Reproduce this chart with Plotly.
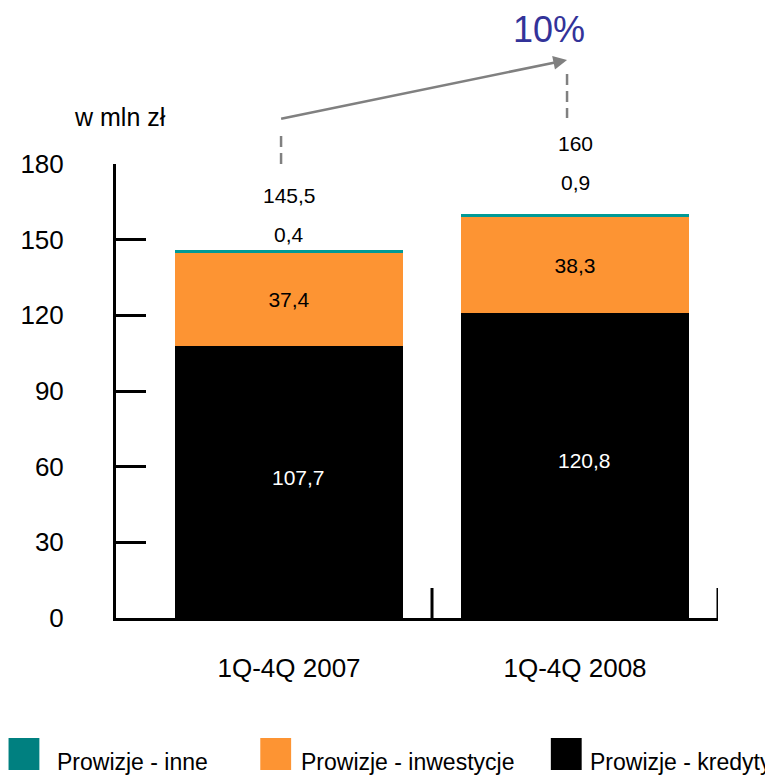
import plotly.graph_objects as go

# ---- data ----
categories = ["1Q-4Q 2007", "1Q-4Q 2008"]
kredyty = [107.7, 120.8]
inwestycje = [37.4, 38.3]
inne = [0.4, 0.9]
totals = [145.5, 160]
growth_label = "10%"
y_ticks = [0, 30, 60, 90, 120, 150, 180]
series_names = ["Prowizje - inne", "Prowizje - inwestycje", "Prowizje - kredyty"]
unit_label = "w mln zł"

FONT = "Liberation Sans, Arial, sans-serif"
C_TEAL = "#009a96"
C_TEAL_LEG = "#008080"
C_ORANGE = "#fd9433"
C_BLACK = "#000000"
C_GREY = "#808080"


def fmt(v):
    s = f"{v:.1f}".replace(".", ",")
    return s[:-2] if s.endswith(",0") else s


# the page body adds an 8px margin; compensate so the figure lands at the reference spot
OFF = 8
W, H = 773 - OFF, 776 - OFF
L, R, T, B = 113 - OFF, 55, 164 - OFF, 158
PW, PH = W - L - R, H - T - B

X_RANGE = [-0.605, 1.5]
Y_RANGE = [0, 180]


def px_x(px):  # reference-pixel x -> paper
    return (px - 113) / PW


def px_y(py):  # reference-pixel y -> paper
    return (618 - py) / PH


def dx(x):  # data x -> paper
    return (x - X_RANGE[0]) / (X_RANGE[1] - X_RANGE[0])


def dy(y):  # data y -> paper
    return (y - Y_RANGE[0]) / (Y_RANGE[1] - Y_RANGE[0])


xs = list(range(len(categories)))
bar_w = 0.795

fig = go.Figure()
fig.add_trace(go.Bar(
    x=xs, y=kredyty, width=bar_w, name=series_names[2],
    marker=dict(color=C_BLACK, line=dict(width=0)),
    showlegend=False,
))
fig.add_trace(go.Bar(
    x=xs, y=inwestycje, width=bar_w, name=series_names[1],
    marker=dict(color=C_ORANGE, line=dict(width=0)),
    text=[fmt(v) for v in inwestycje], textposition="inside",
    insidetextanchor="middle",
    textfont=dict(family=FONT, size=21, color="black"),
    showlegend=False,
))
fig.add_trace(go.Bar(
    x=xs, y=inne, width=bar_w, name=series_names[0],
    marker=dict(color=C_TEAL, line=dict(width=1.5, color=C_TEAL)),
    showlegend=False,
))

annotations = []
shapes = []
# white labels inside the black segments (slightly right of centre, as in the reference)
for i in xs:
    annotations.append(dict(x=dx(i), y=dy(kredyty[i] / 2), xref="paper", yref="paper",
                            xanchor="center", yanchor="middle", xshift=9, yshift=5,
                            text=fmt(kredyty[i]), showarrow=False,
                            font=dict(family=FONT, size=21, color="white")))
# labels above bars: teal value and total
inne_shift = [17, 32]
total_shift = [56, 71]
for i in xs:
    annotations.append(dict(x=dx(i), y=dy(totals[i]), xref="paper", yref="paper",
                            xanchor="center", yanchor="middle",
                            text=fmt(inne[i]), showarrow=False, yshift=inne_shift[i],
                            font=dict(family=FONT, size=21, color="black")))
    annotations.append(dict(x=dx(i), y=dy(totals[i]), xref="paper", yref="paper",
                            xanchor="center", yanchor="middle",
                            text=fmt(totals[i]), showarrow=False, yshift=total_shift[i],
                            font=dict(family=FONT, size=21, color="black")))

# dashed connectors above each bar (drawn top -> bottom so the pattern starts at the top)
conn_x = [dx(i) - 8 / PW for i in xs]
conn_y = [(px_y(136), px_y(164)), (px_y(74), px_y(118))]
for cx, (y0, y1) in zip(conn_x, conn_y):
    shapes.append(dict(type="line", xref="paper", yref="paper", x0=cx, x1=cx,
                       y0=y0, y1=y1,
                       line=dict(color=C_GREY, width=2.5, dash="11px,6px")))

# growth arrow: from above the 2007 connector to above the 2008 connector
annotations.append(dict(x=conn_x[1], y=px_y(60), xref="paper", yref="paper",
                        ax=-(conn_x[1] - conn_x[0]) * PW, ay=59,
                        axref="pixel", ayref="pixel",
                        showarrow=True, arrowhead=2, arrowsize=1.1, arrowwidth=2.5,
                        arrowcolor=C_GREY, standoff=0, text=""))
annotations.append(dict(x=px_x(548), y=px_y(29), xref="paper", yref="paper",
                        xanchor="center", yanchor="middle", text=growth_label,
                        showarrow=False,
                        font=dict(family=FONT, size=36, color="#333399")))
# unit label
annotations.append(dict(x=px_x(117), y=px_y(117), xref="paper", yref="paper",
                        xanchor="center", yanchor="middle",
                        text=unit_label, showarrow=False,
                        font=dict(family=FONT, size=25, color="black")))

# category boundary ticks on x axis
for xb in [0.5, 1.5]:
    shapes.append(dict(type="line", xref="x", yref="y", x0=xb, x1=xb, y0=0, y1=11.9,
                       line=dict(color="black", width=3)))

# manual legend
leg_items = [(series_names[0], C_TEAL_LEG, 5, 52),
             (series_names[1], C_ORANGE, 258, 297),
             (series_names[2], C_BLACK, 550, 587)]
for name, col, sx, tx in leg_items:
    shapes.append(dict(type="rect", xref="paper", yref="paper",
                       x0=px_x(sx), x1=px_x(sx + 31), y0=px_y(770), y1=px_y(738),
                       fillcolor=col, line=dict(width=0)))
    annotations.append(dict(x=px_x(tx), y=px_y(762), xref="paper", yref="paper",
                            xanchor="left", yanchor="middle", text=name, showarrow=False,
                            font=dict(family=FONT, size=23, color="black")))

fig.update_layout(
    barmode="stack",
    width=W, height=H, autosize=False,
    margin=dict(l=L, r=R, t=T, b=B, pad=0),
    paper_bgcolor="white", plot_bgcolor="white",
    font=dict(family=FONT, color="black"),
    annotations=annotations, shapes=shapes,
    xaxis=dict(range=X_RANGE, tickvals=xs, ticktext=categories, ticks="",
               showline=True, linewidth=3, linecolor="black", showgrid=False,
               zeroline=False, tickfont=dict(family=FONT, size=26, color="black"),
               ticklabelstandoff=25),
    yaxis=dict(range=Y_RANGE, tickvals=y_ticks, ticks="inside", ticklen=30,
               tickwidth=3, tickcolor="black", showline=True, linewidth=3,
               linecolor="black", showgrid=False, zeroline=False,
               tickfont=dict(family=FONT, size=26, color="black"),
               ticklabelstandoff=44),
    showlegend=False,
)

fig.write_html("out.html")
